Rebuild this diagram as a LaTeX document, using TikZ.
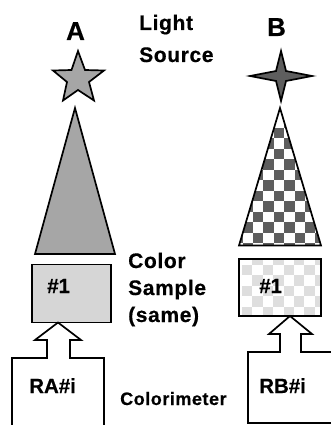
\documentclass[tikz,border=0pt]{standalone}
\usepackage{fontspec}
\setmainfont{Liberation Sans}[BoldFeatures={FakeBold=0.5}]
\newfontfamily\spacedfont{Liberation Sans}[LetterSpace=3,BoldFeatures={FakeBold=0.5}]
\usepackage{tikz}
\definecolor{lampgray}{HTML}{A6A6A6}
\definecolor{darkcheck}{HTML}{5E5E5E}
\definecolor{lightcheck}{HTML}{DEDEDE}
\definecolor{samplegray}{HTML}{D6D6D6}
\tikzset{
    outline/.style={draw=black, line width=1.7pt, line join=miter},
    letter/.style={anchor=base, inner sep=0pt, font=\bfseries\fontsize{26}{26}\selectfont},
    caption/.style={anchor=base west, inner sep=0pt, font=\spacedfont\bfseries\fontsize{21}{21}\selectfont},
    smalltag/.style={anchor=base west, inner sep=0pt, font=\bfseries\fontsize{20.5}{20.5}\selectfont}
}
\begin{document}
\begin{tikzpicture}[x=1pt, y=-1pt]
    \useasboundingbox (0,0) rectangle (330,425);
    % stars
    \draw[outline, fill=lampgray] (78,51) -- (85,70) -- (104,70.5) -- (89,82) -- (94,100.5) -- (78,90) -- (63,100.5) -- (67,82) -- (53,70.5) -- (71.5,70) -- cycle;
    \draw[outline, fill=darkcheck] (281,51) -- (286,71) -- (312,76) -- (286,81) -- (281,101) -- (276,81) -- (250,76) -- (276,71) -- cycle;
    % cones
    \draw[outline, fill=lampgray] (75,108) -- (115,254) -- (35,254) -- cycle;
    \begin{scope}
        \clip (280,108) -- (321,245.5) -- (239,245.5) -- cycle;
        \foreach \row in {-1,...,11} {
            \foreach \col in {-2,...,8} {
                \pgfmathparse{int(mod(\row+\col+20,2))}
                \ifnum\pgfmathresult=0
                    \fill[darkcheck] (253+10.4*\col,232.5-10.5*\row) rectangle ++(10.4,10.5);
                \fi
            }
        }
    \end{scope}
    \draw[outline] (280,108) -- (321,245.5) -- (239,245.5) -- cycle;
    % samples
    \draw[outline, fill=samplegray] (32,264.5) rectangle (111,322.5);
    \begin{scope}
        \clip (239,259) rectangle (321,316);
        \foreach \row in {-1,...,4} {
            \foreach \col in {0,...,7} {
                \pgfmathparse{int(mod(\row+\col+20,2))}
                \ifnum\pgfmathresult=0
                    \fill[lightcheck] (242+10.4*\col,265+10.4*\row) rectangle ++(10.4,10.4);
                \fi
            }
        }
    \end{scope}
    \draw[outline] (239,259) rectangle (321,316);
    % colorimeters
    \draw[outline] (12,425) -- (12,358) -- (47,358) -- (47,340) -- (35,340) -- (58,322.5) -- (81,340) -- (70,340) -- (70,358) -- (104,358) -- (104,425);
    \draw[outline] (331,352) -- (301,352) -- (301,334) -- (312,334) -- (290,316) -- (269,334) -- (280,334) -- (280,352) -- (248,352) -- (248,423) -- (331,423);
    % labels
    \node[letter] (labelA) at (75.5,40) {A};
    \node[letter] (labelB) at (276.5,36) {B};
    \node[caption] (light) at (139,30) {Light};
    \node[caption] (source) at (139,62) {Source};
    \node[caption] (color) at (128,268) {Color};
    \node[caption] (sample) at (128,295) {Sample};
    \node[caption] (same) at (128,322) {(same)};
    \node[smalltag] (sampleA) at (47,293) {\#1};
    \node[smalltag] (sampleB) at (259,293) {\#1};
    \node[smalltag] (readA) at (29,393) {RA\#i};
    \node[smalltag] (readB) at (259,393) {RB\#i};
    \node[caption, font=\spacedfont\bfseries\fontsize{18}{18}\selectfont] (meter) at (120,405) {Colorimeter};
\end{tikzpicture}
\end{document}
